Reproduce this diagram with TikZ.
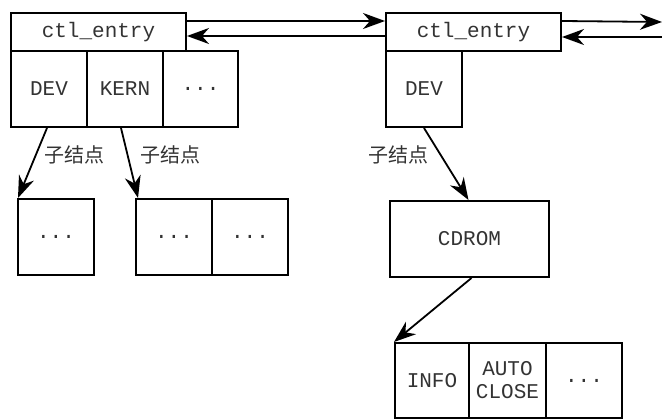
\documentclass[tikz,border=0pt]{standalone}
\usepackage{fontspec}
\setmonofont{Liberation Mono}
\newfontfamily\cjk{Noto Sans CJK SC}
\usetikzlibrary{arrows.meta}
\tikzset{
  cell/.style={draw, line width=2pt, inner sep=0pt, text=black!80, font=\ttfamily\fontsize{21}{23}\selectfont, align=center},
  arr/.style={line width=1.8pt, -{Stealth[length=22pt,width=16pt,inset=7pt]}},
  lbl/.style={font=\cjk\fontsize{20}{22}\selectfont, text=black!80, inner sep=0pt},
}
\begin{document}
\begin{tikzpicture}[x=1pt,y=-1pt]
\useasboundingbox (0,0) rectangle (662,419);
% left entry
\node[cell, minimum width=175pt, minimum height=38pt] (e1) at (98.5,32) {ctl\_entry};
\node[cell, minimum width=76pt, minimum height=76pt] (dev1) at (49,89) {DEV};
\node[cell, minimum width=76pt, minimum height=76pt] (kern) at (125,89) {KERN};
\node[cell, minimum width=75pt, minimum height=76pt] (dots1) at (200.5,89) {...};
% right entry
\node[cell, minimum width=175pt, minimum height=38pt] (e2) at (473.5,32) {ctl\_entry};
\node[cell, minimum width=76pt, minimum height=76pt] (dev2) at (424,89) {DEV};
% children left
\node[cell, minimum width=76pt, minimum height=76pt] (c1) at (56,237) {...};
\node[cell, minimum width=76pt, minimum height=76pt] (c2a) at (174,237) {...};
\node[cell, minimum width=76pt, minimum height=76pt] (c2b) at (250,237) {...};
% CDROM
\node[cell, minimum width=159pt, minimum height=76pt] (cd) at (469.5,239) {CDROM};
% bottom row
\node[cell, minimum width=74pt, minimum height=75pt] (info) at (432,380.5) {INFO};
\node[cell, minimum width=77pt, minimum height=75pt] (auto) at (507.5,380.5) {AUTO\\CLOSE};
\node[cell, minimum width=76pt, minimum height=75pt] (dots3) at (584,380.5) {...};
% free ends
\coordinate (r1) at (662,22);
\coordinate (r2) at (662,37);
% horizontal links
\draw[arr] ([yshift=-9pt]e1.north east) -- ([yshift=-9pt]e2.north west);
\draw[arr] ([yshift=-4pt]e2.west) -- ([yshift=-4pt]e1.east);
\draw[arr] ([yshift=-9pt]e2.north east) -- (r1);
\draw[arr] (r2) -- ([yshift=-5pt]e2.east);
% child links
\draw[arr] ([xshift=-2pt]dev1.south) -- ([xshift=1pt]c1.north west);
\draw[arr] ([xshift=-4pt]kern.south) -- ([xshift=3pt]c2a.north west);
\draw[arr] (dev2.south) -- ([xshift=-1pt]cd.north);
\draw[arr] ([xshift=2pt]cd.south) -- (info.north west);
% labels
\node[lbl] (l1) at (75,155) {子结点};
\node[lbl] (l2) at (170,155) {子结点};
\node[lbl] (l3) at (398,155) {子结点};
\end{tikzpicture}
\end{document}
